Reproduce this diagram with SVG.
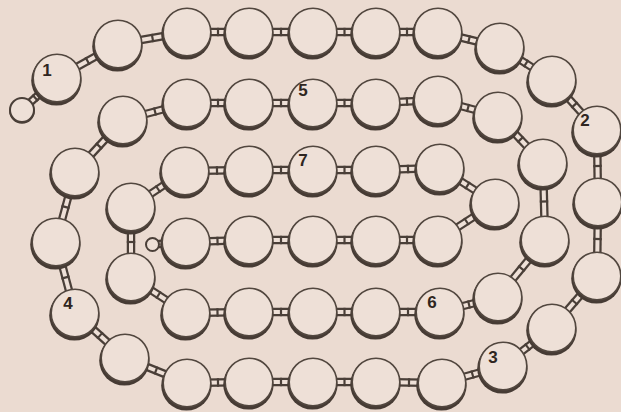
<svg xmlns="http://www.w3.org/2000/svg" xmlns:xlink="http://www.w3.org/1999/xlink" width="621" height="412" viewBox="0 0 621 412">
<style>
.bgc{fill:#ebdbd1}
.sh{fill:#463b34}
.bd{fill:#eee0d7;stroke:#52473f;stroke-width:1.6}
.sm{fill:#eee0d7;stroke:#4a3f38;stroke-width:2}
.railo{fill:none;stroke:#4a3f38;stroke-width:8.5}
.raili{fill:none;stroke:#eee0d7;stroke-width:4;marker-mid:url(#div)}
.lbl{font-family:"Liberation Sans",Arial,sans-serif;font-weight:bold;font-size:17px;fill:#2f2621;text-anchor:middle}
</style>
<defs>
<marker id="div" markerUnits="userSpaceOnUse" markerWidth="10" markerHeight="10" refX="5" refY="5" orient="auto">
<path d="M5,0.8 V9.2" stroke="#4a3f38" stroke-width="2.2" fill="none"/>
</marker>
<g id="bead"><circle cx="-0.6" cy="2.4" r="25.2" class="sh"/><circle r="23.8" class="bd"/></g>
<path id="c0" d="M22,110 L35.2,97.9 L57,78"/>
<path id="c1" d="M57,78 L87.5,61 L118,44"/>
<path id="c2" d="M118,44 L152.5,38 L187,32"/>
<path id="c3" d="M187,32 L218,32 L249,32"/>
<path id="c4" d="M249,32 L281,32 L313,32"/>
<path id="c5" d="M313,32 L344.5,32 L376,32"/>
<path id="c6" d="M376,32 L407,32 L438,32"/>
<path id="c7" d="M438,32 L469,39.5 L500,47"/>
<path id="c8" d="M500,47 L526,63.5 L552,80"/>
<path id="c9" d="M552,80 L574.5,105 L597,130"/>
<path id="c10" d="M597,130 L597.5,166 L598,202"/>
<path id="c11" d="M598,202 L597.5,239 L597,276"/>
<path id="c12" d="M597,276 L574.5,302 L552,328"/>
<path id="c13" d="M552,328 L527.5,347 L503,366"/>
<path id="c14" d="M503,366 L472.5,374.5 L442,383"/>
<path id="c15" d="M442,383 L409,382.5 L376,382"/>
<path id="c16" d="M376,382 L344.5,382 L313,382"/>
<path id="c17" d="M313,382 L281,382 L249,382"/>
<path id="c18" d="M249,382 L218,382.5 L187,383"/>
<path id="c19" d="M187,383 L156,370.5 L125,358"/>
<path id="c20" d="M125,358 L100,335.5 L75,313"/>
<path id="c21" d="M75,313 L65.5,277.5 L56,242"/>
<path id="c22" d="M56,242 L65.5,207 L75,172"/>
<path id="c23" d="M75,172 L99,146 L123,120"/>
<path id="c24" d="M123,120 L155,111.5 L187,103"/>
<path id="c25" d="M187,103 L218,103 L249,103"/>
<path id="c26" d="M249,103 L281,103 L313,103"/>
<path id="c27" d="M313,103 L344.5,103 L376,103"/>
<path id="c28" d="M376,103 L407,101.5 L438,100"/>
<path id="c29" d="M438,100 L468,108 L498,116"/>
<path id="c30" d="M498,116 L520.5,139.5 L543,163"/>
<path id="c31" d="M543,163 L544,201.5 L545,240"/>
<path id="c32" d="M545,240 L521.5,268.5 L498,297"/>
<path id="c33" d="M498,297 L469,304.5 L440,312"/>
<path id="c34" d="M440,312 L408,312 L376,312"/>
<path id="c35" d="M376,312 L344.5,312 L313,312"/>
<path id="c36" d="M313,312 L281,312 L249,312"/>
<path id="c37" d="M249,312 L217.5,312.5 L186,313"/>
<path id="c38" d="M186,313 L158.5,295 L131,277"/>
<path id="c39" d="M131,277 L131,242 L131,207"/>
<path id="c40" d="M131,207 L158,189 L185,171"/>
<path id="c41" d="M185,171 L217,170.5 L249,170"/>
<path id="c42" d="M249,170 L281,170 L313,170"/>
<path id="c43" d="M313,170 L344.5,170 L376,170"/>
<path id="c44" d="M376,170 L408,169 L440,168"/>
<path id="c45" d="M440,168 L467.5,185.5 L495,203"/>
<path id="c46" d="M495,203 L466.5,221.5 L438,240"/>
<path id="c47" d="M438,240 L407,240 L376,240"/>
<path id="c48" d="M376,240 L344.5,240 L313,240"/>
<path id="c49" d="M313,240 L281,240 L249,240"/>
<path id="c50" d="M249,240 L217.5,241 L186,242"/>
<path id="c51" d="M186,242 L152.5,244.5"/>
</defs>
<rect width="621" height="412" class="bgc"/>
<g id="connectors">
<g class="railo">
<use href="#c0"/><use href="#c1"/><use href="#c2"/><use href="#c3"/><use href="#c4"/><use href="#c5"/><use href="#c6"/><use href="#c7"/><use href="#c8"/><use href="#c9"/><use href="#c10"/><use href="#c11"/><use href="#c12"/><use href="#c13"/><use href="#c14"/><use href="#c15"/><use href="#c16"/><use href="#c17"/><use href="#c18"/><use href="#c19"/><use href="#c20"/><use href="#c21"/><use href="#c22"/><use href="#c23"/><use href="#c24"/><use href="#c25"/><use href="#c26"/><use href="#c27"/><use href="#c28"/><use href="#c29"/><use href="#c30"/><use href="#c31"/><use href="#c32"/><use href="#c33"/><use href="#c34"/><use href="#c35"/><use href="#c36"/><use href="#c37"/><use href="#c38"/><use href="#c39"/><use href="#c40"/><use href="#c41"/><use href="#c42"/><use href="#c43"/><use href="#c44"/><use href="#c45"/><use href="#c46"/><use href="#c47"/><use href="#c48"/><use href="#c49"/><use href="#c50"/><use href="#c51"/>
</g>
<g class="raili">
<use href="#c0"/><use href="#c1"/><use href="#c2"/><use href="#c3"/><use href="#c4"/><use href="#c5"/><use href="#c6"/><use href="#c7"/><use href="#c8"/><use href="#c9"/><use href="#c10"/><use href="#c11"/><use href="#c12"/><use href="#c13"/><use href="#c14"/><use href="#c15"/><use href="#c16"/><use href="#c17"/><use href="#c18"/><use href="#c19"/><use href="#c20"/><use href="#c21"/><use href="#c22"/><use href="#c23"/><use href="#c24"/><use href="#c25"/><use href="#c26"/><use href="#c27"/><use href="#c28"/><use href="#c29"/><use href="#c30"/><use href="#c31"/><use href="#c32"/><use href="#c33"/><use href="#c34"/><use href="#c35"/><use href="#c36"/><use href="#c37"/><use href="#c38"/><use href="#c39"/><use href="#c40"/><use href="#c41"/><use href="#c42"/><use href="#c43"/><use href="#c44"/><use href="#c45"/><use href="#c46"/><use href="#c47"/><use href="#c48"/><use href="#c49"/><use href="#c50"/><use href="#c51"/>
</g>
</g>
<g id="nodes">
<g id="start"><circle cx="22" cy="111" r="12.8" class="sh"/><circle cx="22" cy="110" r="12" class="sm"/></g>
<g id="n1" transform="translate(57,78)"><use href="#bead"/><text x="-10" y="-2" class="lbl">1</text></g>
<g id="n2" transform="translate(118,44)"><use href="#bead"/></g>
<g id="n3" transform="translate(187,32)"><use href="#bead"/></g>
<g id="n4" transform="translate(249,32)"><use href="#bead"/></g>
<g id="n5" transform="translate(313,32)"><use href="#bead"/></g>
<g id="n6" transform="translate(376,32)"><use href="#bead"/></g>
<g id="n7" transform="translate(438,32)"><use href="#bead"/></g>
<g id="n8" transform="translate(500,47)"><use href="#bead"/></g>
<g id="n9" transform="translate(552,80)"><use href="#bead"/></g>
<g id="n10" transform="translate(597,130)"><use href="#bead"/><text x="-12" y="-4" class="lbl">2</text></g>
<g id="n11" transform="translate(598,202)"><use href="#bead"/></g>
<g id="n12" transform="translate(597,276)"><use href="#bead"/></g>
<g id="n13" transform="translate(552,328)"><use href="#bead"/></g>
<g id="n14" transform="translate(503,366)"><use href="#bead"/><text x="-10" y="-3" class="lbl">3</text></g>
<g id="n15" transform="translate(442,383)"><use href="#bead"/></g>
<g id="n16" transform="translate(376,382)"><use href="#bead"/></g>
<g id="n17" transform="translate(313,382)"><use href="#bead"/></g>
<g id="n18" transform="translate(249,382)"><use href="#bead"/></g>
<g id="n19" transform="translate(187,383)"><use href="#bead"/></g>
<g id="n20" transform="translate(125,358)"><use href="#bead"/></g>
<g id="n21" transform="translate(75,313)"><use href="#bead"/><text x="-7" y="-4" class="lbl">4</text></g>
<g id="n22" transform="translate(56,242)"><use href="#bead"/></g>
<g id="n23" transform="translate(75,172)"><use href="#bead"/></g>
<g id="n24" transform="translate(123,120)"><use href="#bead"/></g>
<g id="n25" transform="translate(187,103)"><use href="#bead"/></g>
<g id="n26" transform="translate(249,103)"><use href="#bead"/></g>
<g id="n27" transform="translate(313,103)"><use href="#bead"/><text x="-10" y="-7" class="lbl">5</text></g>
<g id="n28" transform="translate(376,103)"><use href="#bead"/></g>
<g id="n29" transform="translate(438,100)"><use href="#bead"/></g>
<g id="n30" transform="translate(498,116)"><use href="#bead"/></g>
<g id="n31" transform="translate(543,163)"><use href="#bead"/></g>
<g id="n32" transform="translate(545,240)"><use href="#bead"/></g>
<g id="n33" transform="translate(498,297)"><use href="#bead"/></g>
<g id="n34" transform="translate(440,312)"><use href="#bead"/><text x="-8" y="-4" class="lbl">6</text></g>
<g id="n35" transform="translate(376,312)"><use href="#bead"/></g>
<g id="n36" transform="translate(313,312)"><use href="#bead"/></g>
<g id="n37" transform="translate(249,312)"><use href="#bead"/></g>
<g id="n38" transform="translate(186,313)"><use href="#bead"/></g>
<g id="n39" transform="translate(131,277)"><use href="#bead"/></g>
<g id="n40" transform="translate(131,207)"><use href="#bead"/></g>
<g id="n41" transform="translate(185,171)"><use href="#bead"/></g>
<g id="n42" transform="translate(249,170)"><use href="#bead"/></g>
<g id="n43" transform="translate(313,170)"><use href="#bead"/><text x="-10" y="-4" class="lbl">7</text></g>
<g id="n44" transform="translate(376,170)"><use href="#bead"/></g>
<g id="n45" transform="translate(440,168)"><use href="#bead"/></g>
<g id="n46" transform="translate(495,203)"><use href="#bead"/></g>
<g id="n47" transform="translate(438,240)"><use href="#bead"/></g>
<g id="n48" transform="translate(376,240)"><use href="#bead"/></g>
<g id="n49" transform="translate(313,240)"><use href="#bead"/></g>
<g id="n50" transform="translate(249,240)"><use href="#bead"/></g>
<g id="n51" transform="translate(186,242)"><use href="#bead"/></g>
<g id="end"><circle cx="152.5" cy="244.5" r="6.5" class="sm"/></g>
</g>
</svg>
